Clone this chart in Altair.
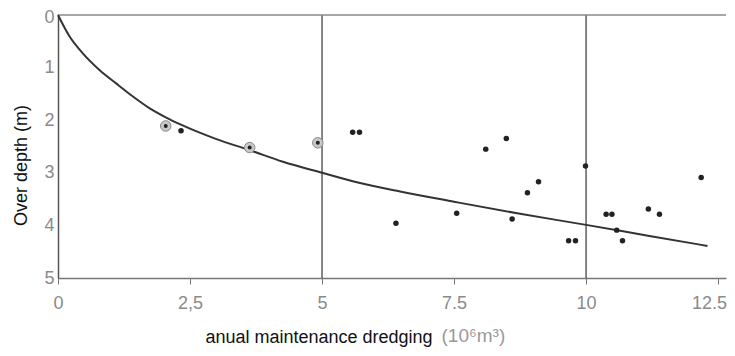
import altair as alt
import pandas as pd

# Scatter points (annual maintenance dredging, over depth)
pt_x = [2.33, 5.58, 5.71, 8.1, 8.49, 9.99, 12.18, 9.1, 8.89, 6.4, 7.55, 8.6,
        9.67, 9.8, 10.38, 10.49, 10.58, 10.69, 11.18, 11.39]
pt_y = [2.2, 2.23, 2.23, 2.55, 2.35, 2.87, 3.09, 3.17, 3.38, 3.96, 3.77, 3.88,
        4.29, 4.29, 3.79, 3.79, 4.09, 4.29, 3.69, 3.79]

# Circled points
circ_x = [2.04, 3.63, 4.92]
circ_y = [2.11, 2.52, 2.43]

# Fitted curve
curve_x = [0, 0.22, 0.47, 0.79, 1.1, 1.42, 1.73, 2.05, 2.36, 3.0, 3.63, 4.26,
           5.0, 5.7, 6.5, 7.5, 8.75, 10.0, 11.2, 12.3]
curve_y = [0, 0.41, 0.73, 1.05, 1.3, 1.55, 1.77, 1.95, 2.1, 2.36, 2.57, 2.79,
           3.0, 3.19, 3.36, 3.55, 3.78, 3.99, 4.2, 4.39]

# Vertical reference lines
vline_x = [5, 10]

x_ticks = [0, 2.5, 5, 7.5, 10, 12.5]
y_ticks = [0, 1, 2, 3, 4, 5]
x_title = "anual maintenance dredging"
unit_label = ["(10\u2076m\u00b3)"]
y_title = "Over depth (m)"

W, H = 668, 263
FONT = "Liberation Sans"

pts = pd.DataFrame({"x": pt_x, "y": pt_y})
circ = pd.DataFrame({"x": circ_x, "y": circ_y})
curve = pd.DataFrame({"x": curve_x, "y": curve_y})
vl = pd.DataFrame({"x": vline_x, "y0": [0] * len(vline_x), "y1": [5] * len(vline_x)})
top = pd.DataFrame({"y": [0]})
unit = pd.DataFrame({"t": unit_label})

xs = alt.Scale(domain=[0, 12.65], nice=False, zero=False)
ys = alt.Scale(domain=[0, 5], reverse=True, nice=False)

xaxis = alt.Axis(values=x_ticks, title=x_title, grid=False,
                 labelExpr="datum.value == 2.5 ? '2,5' : format(datum.value, '')",
                 labelFont=FONT, labelFontSize=18, labelColor="#8a8a8a",
                 labelFlush=False, labelPadding=10, tickSize=6, tickColor="#777",
                 labelOffset={"condition": {"test": "datum.value == 12.5", "value": -9},
                              "value": 0},
                 domainColor="#777", domainWidth=1.5,
                 titleFont=FONT, titleFontSize=18, titleFontWeight="normal",
                 titleColor="#111", titleX=260.5, titleY=64,
                 titleAlign="center", titleBaseline="alphabetic")
yaxis = alt.Axis(values=y_ticks, title=y_title, grid=False, ticks=False,
                 labelFont=FONT, labelFontSize=18, labelColor="#8a8a8a",
                 labelPadding=4, domainColor="#555", domainWidth=1.5,
                 labelOffset={"condition": {"test": "datum.value == 0", "value": 2.5},
                              "value": 0},
                 titleFont=FONT, titleFontSize=18, titleFontWeight="normal",
                 titleColor="#111", titleAngle=270, titleX=-36.5, titleY=150,
                 titleAlign="center", titleBaseline="middle")

base_axes = alt.Chart(curve).mark_line(color="#333", strokeWidth=2,
                                        interpolate="monotone").encode(
    x=alt.X("x:Q", scale=xs, axis=xaxis),
    y=alt.Y("y:Q", scale=ys, axis=yaxis),
)

vlines = alt.Chart(vl).mark_rule(color="#444", strokeWidth=1.3).encode(
    x=alt.X("x:Q", scale=xs), y=alt.Y("y0:Q", scale=ys), y2="y1:Q")

topline = alt.Chart(top).mark_rule(color="#888", strokeWidth=1.5).encode(
    y=alt.Y("y:Q", scale=ys), x=alt.value(0), x2=alt.value(W))

halo = alt.Chart(circ).mark_circle(size=110, color="#c8c8c8", opacity=1,
                                   stroke="#888", strokeWidth=1).encode(
    x=alt.X("x:Q", scale=xs), y=alt.Y("y:Q", scale=ys))
halo_dot = alt.Chart(circ).mark_circle(size=16, color="#222", opacity=1).encode(
    x=alt.X("x:Q", scale=xs), y=alt.Y("y:Q", scale=ys))

dots = alt.Chart(pts).mark_circle(size=30, color="#222", opacity=1).encode(
    x=alt.X("x:Q", scale=xs), y=alt.Y("y:Q", scale=ys))

unit_text = alt.Chart(unit).mark_text(font=FONT, fontSize=19, color="#999",
                                      align="left", baseline="alphabetic").encode(
    text="t:N", x=alt.value(383.5), y=alt.value(327))

chart = alt.layer(vlines, topline, base_axes, halo, halo_dot, dots, unit_text).properties(
    width=W, height=H,
    autosize=alt.AutoSizeParams(type="none"),
    padding={"left": 50, "top": 7, "right": 1, "bottom": 70},
    background="white",
).configure_view(stroke=None)

chart.save("out.html", embed_options={"renderer": "svg", "actions": False})
